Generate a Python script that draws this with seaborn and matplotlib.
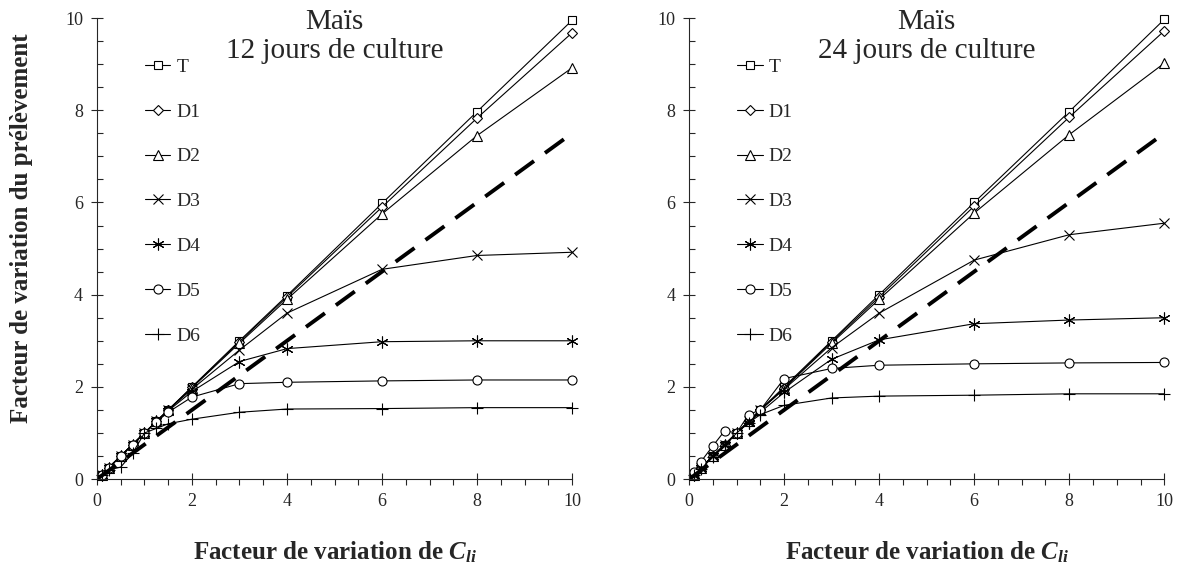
import numpy as np
import pandas as pd
import matplotlib
matplotlib.use("Agg")
import matplotlib.pyplot as plt
from matplotlib.ticker import MultipleLocator
import seaborn as sns

# donnees
x_cli = [0.1, 0.25, 0.5, 0.75, 1, 1.25, 1.5, 2, 3, 4, 6, 8, 10]
series = ["T", "D1", "D2", "D3", "D4", "D5", "D6"]

# 12 jours de culture
j12_T = [0.1, 0.25, 0.5, 0.75, 1, 1.25, 1.5, 2.0, 3.0, 3.98, 5.98, 7.97, 9.95]
j12_D1 = [0.1, 0.25, 0.5, 0.75, 1, 1.25, 1.5, 1.99, 2.98, 3.95, 5.9, 7.83, 9.68]
j12_D2 = [0.1, 0.25, 0.5, 0.75, 1, 1.25, 1.5, 1.98, 2.95, 3.9, 5.75, 7.45, 8.92]
j12_D3 = [0.1, 0.25, 0.5, 0.75, 1, 1.25, 1.5, 1.95, 2.8, 3.6, 4.55, 4.85, 4.92]
j12_D4 = [0.1, 0.25, 0.5, 0.75, 1, 1.25, 1.48, 1.9, 2.55, 2.83, 2.98, 3.0, 3.0]
j12_D5 = [0.1, 0.25, 0.5, 0.75, 1, 1.24, 1.45, 1.78, 2.07, 2.1, 2.13, 2.15, 2.15]
j12_D6 = [0.08, 0.2, 0.26, 0.56, 1, 1.1, 1.2, 1.3, 1.45, 1.52, 1.53, 1.55, 1.55]

# 24 jours de culture
j24_T = [0.1, 0.25, 0.5, 0.75, 1, 1.25, 1.5, 2.0, 3.0, 4.0, 6.0, 7.97, 9.97]
j24_D1 = [0.1, 0.25, 0.5, 0.75, 1, 1.25, 1.5, 1.98, 2.98, 3.95, 5.92, 7.85, 9.72]
j24_D2 = [0.1, 0.25, 0.5, 0.75, 1, 1.25, 1.5, 1.97, 2.95, 3.9, 5.77, 7.47, 9.02]
j24_D3 = [0.1, 0.25, 0.5, 0.75, 1, 1.25, 1.5, 1.95, 2.85, 3.6, 4.75, 5.3, 5.55]
j24_D4 = [0.1, 0.25, 0.5, 0.75, 1, 1.22, 1.45, 1.88, 2.6, 3.02, 3.37, 3.45, 3.5]
j24_D5 = [0.15, 0.38, 0.72, 1.05, 1.0, 1.4, 1.5, 2.18, 2.4, 2.47, 2.5, 2.52, 2.53]
j24_D6 = [0.1, 0.22, 0.48, 0.72, 1, 1.22, 1.4, 1.6, 1.76, 1.8, 1.82, 1.85, 1.85]

# droite pointillee
dash_x = [0, 10]
dash_y = [0, 7.5]

titres = ["Maïs\n12 jours de culture", "Maïs\n24 jours de culture"]

sns.set_style("ticks")
plt.rcParams["font.family"] = ["Liberation Serif", "DejaVu Serif"]
plt.rcParams["mathtext.fontset"] = "custom"
plt.rcParams["mathtext.it"] = "Liberation Serif:italic:bold"
plt.rcParams["mathtext.rm"] = "Liberation Serif:bold"

marqueurs = {"T": "s", "D1": "D", "D2": "^", "D3": "x", "D4": (6, 2, 0), "D5": "o", "D6": "+"}
tailles = {"T": 6, "D1": 5, "D2": 6.5, "D3": 7.5, "D4": 8.5, "D5": 6.5, "D6": 8.5}

jeux = [
    [j12_T, j12_D1, j12_D2, j12_D3, j12_D4, j12_D5, j12_D6],
    [j24_T, j24_D1, j24_D2, j24_D3, j24_D4, j24_D5, j24_D6],
]

fig = plt.figure(figsize=(11.82, 5.63), dpi=100)
ax1 = fig.add_axes([0.082, 0.149, 0.402, 0.819])
ax2 = fig.add_axes([0.583, 0.149, 0.402, 0.819])

for ax, jeu, titre in zip([ax1, ax2], jeux, titres):
    for nom, vals in zip(series, jeu):
        df = pd.DataFrame({"x": x_cli, "y": vals})
        sns.lineplot(data=df, x="x", y="y", ax=ax, color="black", lw=0.8,
                     marker=marqueurs[nom], ms=tailles[nom], mfc="white",
                     mec="black", mew=0.8, label=nom, clip_on=False)
    sns.lineplot(x=dash_x, y=dash_y, ax=ax, color="black", lw=2.8,
                 dashes=False, linestyle=(0, (6, 3.5)))
    ax.set_xlim(0, 10)
    ax.set_ylim(0, 10)
    ax.xaxis.set_major_locator(MultipleLocator(2))
    ax.yaxis.set_major_locator(MultipleLocator(2))
    ax.xaxis.set_minor_locator(MultipleLocator(0.5))
    ax.yaxis.set_minor_locator(MultipleLocator(0.5))
    ax.tick_params(which="major", direction="inout", length=8, width=0.8, labelsize=13, pad=6)
    ax.tick_params(axis="x", which="minor", direction="out", length=4, width=0.8)
    ax.tick_params(axis="y", which="minor", direction="in", length=4, width=0.8)
    sns.despine(ax=ax)
    for s in ax.spines.values():
        s.set_linewidth(0.8)
    ax.set_xlabel(r"Facteur de variation de $C_{li}$", fontsize=18, fontweight="bold", labelpad=21)
    ax.set_ylabel("")
    ax.text(0.5, 1.02, titre, transform=ax.transAxes, ha="center", va="top",
            fontsize=21, linespacing=1.15)
    ax.legend(loc="upper left", bbox_to_anchor=(0.085, 0.93), frameon=False,
              fontsize=14, handlelength=1.3, handletextpad=0.3, labelspacing=1.4,
              borderaxespad=0)

ax1.set_ylabel("Facteur de variation du prélèvement", fontsize=18, fontweight="bold")
ax1.yaxis.set_label_coords(-0.135, 0.545)

fig.savefig("out.png", dpi=100)
